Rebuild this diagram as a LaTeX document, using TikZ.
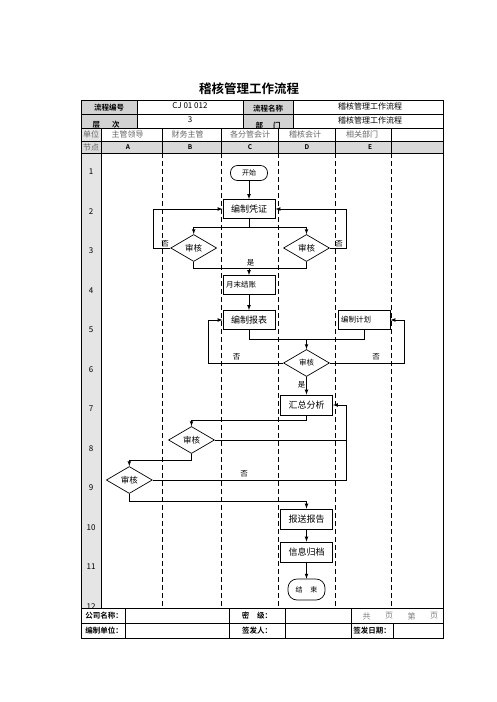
\documentclass[tikz,border=0pt]{standalone}
\usepackage{fontspec}
\setmainfont{Noto Sans CJK SC}[BoldFont={Noto Sans CJK SC Bold}]
\usetikzlibrary{arrows, shapes, positioning}

\begin{document}
\begin{tikzpicture}[x=1pt, y=-1pt, >=latex,
    proc/.style = {draw, line width=0.8pt, minimum width=52pt, minimum height=19pt, inner sep=1pt, font=\fontsize{9}{9}\selectfont},
    dec/.style = {draw, diamond, shape aspect=1.7, line width=0.7pt, inner sep=0pt, minimum width=46pt, minimum height=27pt, font=\fontsize{8.5}{8.5}\selectfont},
    term/.style = {draw, line width=0.7pt, rounded corners=7pt, minimum width=37pt, minimum height=15pt, inner sep=1pt, font=\fontsize{7}{7}\selectfont},
    small/.style = {font=\fontsize{7.5}{7.5}\selectfont},
    flow/.style = {line width=0.7pt},
    lbl/.style = {font=\fontsize{7.5}{7.5}\selectfont, inner sep=0pt},
    cell/.style = {font=\fontsize{8}{8}\selectfont, inner sep=0pt},
    head/.style = {font=\bfseries\fontsize{7.5}{7.5}\selectfont, inner sep=0pt},
    lane/.style = {dash pattern=on 5pt off 3pt, line width=0.6pt},
  ]
  \useasboundingbox (0,0) rectangle (496,702);
  \node [font=\bfseries\fontsize{12.5}{12.5}\selectfont] (title) at (249,89) {稽核管理工作流程};

  % header rows
  \fill [gray!35] (81,100) rectangle (137,128);
  \fill [gray!35] (243,100) rectangle (293,128);
  \draw (81,114) -- (443,114);
  \foreach \x in {137, 243, 293}
    \draw (\x,100) -- (\x,128);
  \node [head] (h1) at (109,107.5) {流程编号};
  \node [cell] (h2) at (190,106) {CJ 01 012};
  \node [head] (h3) at (268,108.5) {流程名称};
  \node [cell] (h4) at (370,106.5) {稽核管理工作流程};
  \node [head] (h5) at (106,125) {层\hspace{12pt}次};
  \node [cell] (h6) at (190,119.5) {3};
  \node [head] (h7) at (268,126) {部\hspace{10pt}门};
  \node [cell] (h8) at (370,120.5) {稽核管理工作流程};

  % lanes
  \fill [white] (81,128) rectangle (443,141);
  \fill [gray!20] (81,128) rectangle (101,141);
  \fill [gray!30] (81,141) rectangle (443,153);
  \fill [gray!20] (81,153) rectangle (101,608);
  \draw (81,128) -- (443,128);
  \draw (81,141) -- (443,141);
  \draw (81,153) -- (443,153);
  \foreach \x in {101, 162, 221, 278, 335, 391}
    \draw (\x,128) -- (\x,153);
  \draw [line width=1pt] (101,153) -- (101,608);
  \foreach \x in {162, 221, 278, 335, 391}
    \draw [lane] (\x,153) -- (\x,608);
  \node [cell, gray!80!black] (u0) at (91,134.5) {单位};
  \node [cell, gray!80!black] (u1) at (127.5,134.5) {主管领导};
  \node [cell, gray!80!black] (u2) at (187.5,134.5) {财务主管};
  \node [cell, gray!80!black] (u3) at (250,134.5) {各分管会计};
  \node [cell, gray!80!black] (u4) at (305,134.5) {稽核会计};
  \node [cell, gray!80!black] (u5) at (362,134.5) {相关部门};
  \node [cell, gray!80!black] (k0) at (91,147) {节点};
  \foreach \c/\x in {A/128, B/190, C/250, D/307, E/370}
    \node [head, font=\bfseries\fontsize{6.5}{6.5}\selectfont] (k\c) at (\x,147) {\c};
  \foreach \n in {1, ..., 12}
    \node [cell] (row\n) at (91, {172 + (\n-1)*39.5}) {\n};

  % flow
  \node [term] (start) at (249,173) {开始};
  \node [proc] (pz) at (249,209) {编制凭证};
  \node [dec] (dl) at (193.7,248) {审核};
  \node [dec] (dr) at (306.5,248) {审核};
  \coordinate (m1) at (249,268.3);
  \node [proc, small, text width=46pt, align=left] (yj) at (249,285) {月末结账};
  \node [proc] (bb) at (249,320) {编制报表};
  \node [proc, small, text width=46pt, align=left] (jh) at (364,320) {编制计划};
  \coordinate (m2) at (306.5,339.3);
  \node [dec, small] (d6) at (306.5,363) {审核};
  \node [proc, minimum height=20pt] (hz) at (306.5,405) {汇总分析};
  \node [dec] (d8) at (191.5,440) {审核};
  \node [dec] (d9) at (129.3,480) {审核};
  \coordinate (rb) at (346.7,480);
  \node [proc, minimum height=20pt] (bs) at (306.5,519) {报送报告};
  \node [proc, minimum height=20pt] (xg) at (306.5,552) {信息归档};
  \node [term, minimum height=21pt, rounded corners=9pt] (end) at (306.5,589.5) {结\hspace{8pt}束};

  \draw [flow, ->] (start) -- (pz);
  \draw [flow] (pz.south) -- ++(0,8.7) coordinate (s1);
  \draw [flow, ->] (s1) -| (dl.north);
  \draw [flow, ->] (s1) -| (dr.north);
  \draw [flow, ->] (dl.west) -- ++(-16.7,0) |- (pz.west);
  \draw [flow, ->] (dr.east) -- ++(16,0) |- (pz.east);
  \draw [flow] (dl.south) |- (m1) -| (dr.south);
  \draw [flow, ->] (m1) -- (yj);
  \draw [flow, ->] (yj) -- (bb);
  \draw [flow] (bb.south) |- (m2) -| (jh.south);
  \draw [flow, ->] (m2) -- (d6.north);
  \draw [flow, ->] (d6.west) -- ++(-74.5,0) |- (bb.west);
  \draw [flow, ->] (d6.east) -- ++(74.5,0) |- (jh.east);
  \draw [flow, ->] (d6) -- (hz);
  \draw [flow, ->] (hz.south) -- ++(0,5) -| (d8.north);
  \draw [flow] (d8.east) -- (d8.east -| rb);
  \draw [flow, ->] (d9.east) -- (rb) |- (hz.east);
  \draw [flow, ->] (d8.south) -- ++(0,6) -| (d9.north);
  \draw [flow, ->] (d9.south) -- ++(0,7.7) -| (bs.north);
  \draw [flow, ->] (bs) -- (xg);
  \draw [flow, ->] (xg) -- (end);

  \node [lbl] (n1) at (165,244) {否};
  \node [lbl] (n2) at (339,244) {否};
  \node [lbl] (y1) at (250.5,263) {是};
  \node [lbl] (n3) at (236.7,357) {否};
  \node [lbl] (n4) at (376,357) {否};
  \node [lbl] (y2) at (301.7,385) {是};
  \node [lbl] (n5) at (244,474) {否};

  % footer
  \fill [white] (81,608) rectangle (443,638);
  \draw (81,608) -- (443,608);
  \draw (81,623) -- (443,623);
  \foreach \x in {125, 229, 285, 351}
    \draw (\x,608) -- (\x,638);
  \draw (393,623) -- (393,638);
  \node [head] (f1) at (104,615.5) {公司名称：};
  \node [head] (f2) at (257,615.5) {密\hspace{8pt}级：};
  \foreach \t [count=\i] in {共, 页, 第, 页}
    \node [cell, gray] (f3\i) at ({344 + \i*22.5},616) {\t};
  \node [head] (f4) at (104,630.5) {编制单位：};
  \node [head] (f5) at (257,630.5) {签发人：};
  \node [head] (f6) at (372,630.5) {签发日期：};
  \draw [line width=1pt] (81,100) rectangle (443,638);
\end{tikzpicture}
\end{document}
